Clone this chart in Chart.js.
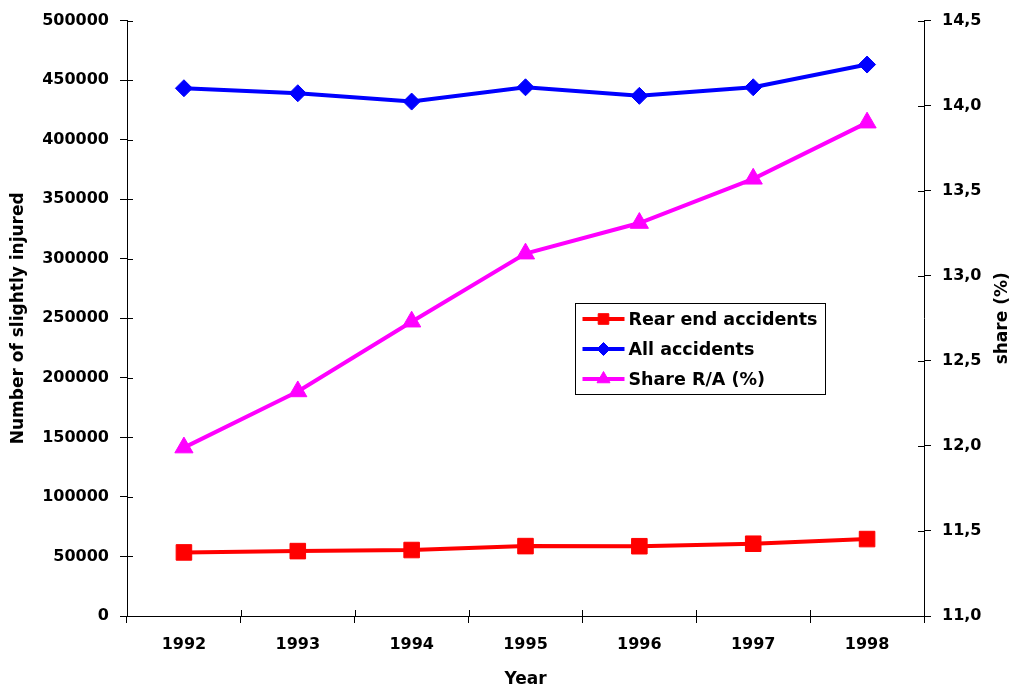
<!DOCTYPE html>
<html>
<head>
<meta charset="utf-8">
<script src="https://cdn.jsdelivr.net/npm/chart.js@4/dist/chart.umd.min.js"></script>
<style>
html,body{margin:0;padding:0;background:#fff;}
#wrap{width:1018px;height:693px;}
</style>
</head>
<body>
<div id="wrap"><canvas id="c" width="1018" height="693"></canvas></div>
<script>
// ---- data ----
const years = ['1992', '1993', '1994', '1995', '1996', '1997', '1998'];
const rearEnd = [53400, 54500, 55400, 58700, 58600, 60700, 64600];
const allAccidents = [443200, 439000, 432000, 444000, 436800, 444000, 463100];
const shareRA = [11.99, 12.32, 12.73, 13.13, 13.31, 13.57, 13.90];
const seriesNames = ['Rear end accidents', 'All accidents', 'Share R/A (%)'];
const leftAxisTitle = 'Number of slightly injured';
const rightAxisTitle = 'share (%)';
const xAxisTitle = 'Year';

const FONT = 'DejaVu Sans';
const tickFont = {family: FONT, size: 16, weight: 'bold'};
const titleFont = {family: FONT, size: 17, weight: 'bold'};

const crossTicks = {
  id: 'crossTicks',
  beforeDatasetsDraw(chart) {
    const {ctx, chartArea: a, scales} = chart;
    ctx.save();
    ctx.strokeStyle = '#000';
    ctx.lineWidth = 1;
    ctx.beginPath();
    const y = scales.y;
    y.ticks.forEach((t, i) => {
      const p = Math.round(y.getPixelForTick(i)) + 0.5;
      ctx.moveTo(a.left, p); ctx.lineTo(a.left + 6, p);
    });
    const y2 = scales.y2;
    y2.ticks.forEach((t, i) => {
      const p = Math.round(y2.getPixelForTick(i)) + 0.5;
      ctx.moveTo(a.right, p); ctx.lineTo(a.right - 6, p);
    });
    const x = scales.x;
    for (let i = 0; i <= years.length; i++) {
      const p = Math.round(x.getPixelForValue(i - 0.5)) + 0.5;
      ctx.moveTo(p, a.bottom); ctx.lineTo(p, a.bottom - 6);
    }
    ctx.stroke();
    ctx.restore();
  }
};

const boxLegend = {
  id: 'boxLegend',
  afterDraw(chart) {
    const {ctx, chartArea: a} = chart;
    const x0 = Math.round(a.left + 0.562 * (a.right - a.left)) + 0.5;
    const y0 = Math.round(a.top + 0.475 * (a.bottom - a.top)) + 0.5;
    const w = 250, h = 91;
    ctx.save();
    ctx.fillStyle = '#fff';
    ctx.fillRect(x0, y0, w, h);
    ctx.strokeStyle = '#000';
    ctx.lineWidth = 1;
    ctx.strokeRect(x0, y0, w, h);
    const radii = [7.5, 6.5, 7.5];
    chart.data.datasets.forEach((ds, i) => {
      const cy = y0 + 15.5 + i * 30;
      ctx.strokeStyle = ds.borderColor;
      ctx.lineWidth = 4;
      ctx.beginPath();
      ctx.moveTo(x0 + 7, cy); ctx.lineTo(x0 + 49, cy);
      ctx.stroke();
      ctx.fillStyle = ds.backgroundColor;
      ctx.strokeStyle = ds.borderColor;
      ctx.lineWidth = 1;
      Chart.helpers.drawPoint(ctx, {pointStyle: ds.pointStyle, radius: radii[i], rotation: 0, borderWidth: 1}, x0 + 28, cy);
      ctx.fillStyle = '#000';
      ctx.font = 'bold 17.5px "' + FONT + '"';
      ctx.textAlign = 'left';
      ctx.textBaseline = 'middle';
      ctx.fillText(ds.label, x0 + 53, cy + 1);
    });
    // right axis title (reads bottom to top)
    ctx.translate(1003, (a.top + a.bottom) / 2);
    ctx.rotate(-Math.PI / 2);
    ctx.font = 'bold 17px "' + FONT + '"';
    ctx.textAlign = 'center';
    ctx.textBaseline = 'middle';
    ctx.fillStyle = '#000';
    ctx.fillText(rightAxisTitle, 0, 0);
    ctx.restore();
  }
};

new Chart(document.getElementById('c'), {
  type: 'line',
  data: {
    labels: years,
    datasets: [
      {label: seriesNames[0], data: rearEnd, yAxisID: 'y', borderColor: '#FF0000', backgroundColor: '#FF0000',
       borderWidth: 4, pointStyle: 'rect', pointRadius: 11, pointBorderWidth: 1, tension: 0, fill: false},
      {label: seriesNames[1], data: allAccidents, yAxisID: 'y', borderColor: '#0000FF', backgroundColor: '#0000FF',
       borderWidth: 4, pointStyle: 'rectRot', pointRadius: 8.5, pointBorderWidth: 1, tension: 0, fill: false},
      {label: seriesNames[2], data: shareRA, yAxisID: 'y2', borderColor: '#FF00FF', backgroundColor: '#FF00FF',
       borderWidth: 4, pointStyle: 'triangle', pointRadius: 10.5, pointBorderWidth: 1, tension: 0, fill: false}
    ]
  },
  options: {
    responsive: false,
    animation: false,
    devicePixelRatio: 1,
    layout: {padding: {top: 20, left: 0, right: 0, bottom: 0}},
    plugins: {legend: {display: false}, tooltip: {enabled: false}},
    scales: {
      x: {
        type: 'category',
        offset: true,
        grid: {offset: true, drawOnChartArea: false, drawTicks: true, tickLength: 7, color: '#000'},
        border: {display: true, color: '#000', width: 1},
        ticks: {font: tickFont, color: '#000', padding: 12, maxRotation: 0, autoSkip: false},
        title: {display: true, text: xAxisTitle, font: titleFont, color: '#000', padding: {top: 0, bottom: 3}},
        afterFit(s) { s.height = 77; }
      },
      y: {
        position: 'left',
        min: 0, max: 500000,
        grid: {drawOnChartArea: false, drawTicks: true, tickLength: 7, color: '#000'},
        border: {display: true, color: '#000', width: 1},
        ticks: {stepSize: 50000, font: tickFont, color: '#000', padding: 11, callback: v => String(v)},
        title: {display: true, text: leftAxisTitle, font: titleFont, color: '#000', padding: {top: 8, bottom: 0}},
        afterFit(s) { s.width = 127; }
      },
      y2: {
        position: 'right',
        min: 11, max: 14.5,
        grid: {drawOnChartArea: false, drawTicks: true, tickLength: 7, color: '#000'},
        border: {display: true, color: '#000', width: 1},
        ticks: {stepSize: 0.5, font: tickFont, color: '#000', padding: 11, callback: v => Number(v).toFixed(1).replace('.', ',')},
        title: {display: false},
        afterFit(s) { s.width = 94; }
      }
    }
  },
  plugins: [crossTicks, boxLegend]
});
</script>
</body>
</html>
